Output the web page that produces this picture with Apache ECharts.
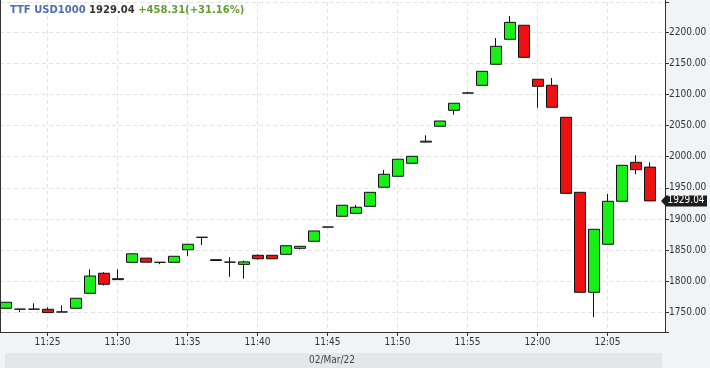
<!DOCTYPE html>
<html><head><meta charset="utf-8">
<script src="https://cdn.jsdelivr.net/npm/echarts@6/dist/echarts.min.js"></script>
<style>html,body{margin:0;padding:0;background:#f2f3f5}#c{width:710px;height:368px}</style>
</head><body><div id="c"></div>
<script>
// ---- data ----
const instrument = 'TTF USD1000';
const changeAbs = '+458.31';
const changePct = '+31.16%';
const dateLabel = '02/Mar/22';
const times = ['11:22','11:23','11:24','11:25','11:26','11:27','11:28','11:29','11:30','11:31',
  '11:32','11:33','11:34','11:35','11:36','11:37','11:38','11:39','11:40','11:41',
  '11:42','11:43','11:44','11:45','11:46','11:47','11:48','11:49','11:50','11:51',
  '11:52','11:53','11:54','11:55','11:56','11:57','11:58','11:59','12:00','12:01',
  '12:02','12:03','12:04','12:05','12:06','12:07','12:08'];
const opens = [1756.4,1755,1755,1754.8,1750.5,1756.4,1780.5,1812.7,1802.5,1830.3,
  1837,1830.3,1830.3,1850.6,1870.5,1834.5,1830.6,1827,1841.6,1841.6,
  1843.2,1852.8,1864.1,1887,1904.3,1909,1920.3,1951,1968.6,1989.5,
  2023.5,2049,2074.6,2102.4,2114.8,2148.6,2188.7,2211.3,2124.5,2114.8,
  2063.4,1942.8,1782.1,1859.3,1928.4,1991,1983.3];
const closes = [1766.1,1755,1755,1749.6,1750.5,1772.5,1808.3,1795,1804,1844,
  1830.5,1830.3,1840,1859.3,1870.5,1833.2,1830.6,1831,1836,1836,
  1857,1856,1880.7,1887,1922,1918.8,1942.8,1971.8,1996,2000.7,
  2025,2057.4,2086,2102.4,2137.3,2177.5,2216,2159.8,2113.2,2079.5,
  1941.2,1782.1,1883.4,1928.4,1986.2,1979.2,1929.04];
const lows = [1756,1750,1755,1749.4,1750.5,1756.4,1780.5,1793,1802.5,1830.3,
  1830.5,1827.3,1830.3,1840.5,1858,1833.2,1807,1804,1834.5,1836,
  1843.2,1851,1864.1,1887,1904.3,1909,1920.3,1951,1968.6,1989.5,
  2023.5,2049,2067.6,2102.4,2114.8,2148.6,2188.7,2159.8,2078.8,2079.5,
  1941.2,1782.1,1742,1859.3,1928.4,1971.8,1929.04];
const highs = [1766.5,1755,1764.5,1758,1761,1772.5,1819,1814.5,1819,1844,
  1837,1830.3,1840,1859.3,1870.5,1834.5,1838.4,1833,1843,1841.6,
  1857,1856,1880.7,1887,1922,1922.4,1942.8,1978.7,1996,2000.7,
  2034.5,2057.4,2086,2104.5,2137.3,2190.8,2226,2211.3,2124.5,2126.5,
  2063.4,1942.8,1883.4,1940,1986.2,2002.3,1991];
const xTickLabels = ['11:25','11:30','11:35','11:40','11:45','11:50','11:55','12:00','12:05'];
const yTickLabels = ['1750.00','1800.00','1850.00','1900.00','1950.00','2000.00','2050.00','2100.00','2150.00','2200.00'];

// ---- helpers ----
const toMin = t => { const p = t.split(':'); return (+p[0]) * 60 + (+p[1]); };
const fmtMin = v => { const h = Math.floor(v / 60), m = Math.round(v - h * 60); return h + ':' + (m < 10 ? '0' + m : m); };
const lastClose = closes[closes.length - 1];
const firstX = toMin(times[0]);
const xMin = firstX - 0.393;
const xMax = firstX + 47.107;
const yMin = 1718.3, yMax = 2248.7;
const axisFont = "'DejaVu Sans Condensed','Liberation Sans Narrow','DejaVu Sans',sans-serif";

const chart = echarts.init(document.getElementById('c'), null, {renderer: 'canvas'});
chart.setOption({
  animation: false,
  backgroundColor: '#f2f3f5',
  title: {
    left: 10, top: 5, padding: 0,
    text: '{a|' + instrument + '} {b|' + lastClose.toFixed(2) + '} {c|' + changeAbs + '(' + changePct + ')}',
    textStyle: {
      fontSize: 10, fontWeight: 'bold', fontFamily: 'DejaVu Sans',
      rich: {
        a: {color: '#4e6fb4', fontWeight: 'bold', fontSize: 10, fontFamily: 'DejaVu Sans'},
        b: {color: '#333333', fontWeight: 'bold', fontSize: 10, fontFamily: 'DejaVu Sans'},
        c: {color: '#62a031', fontWeight: 'bold', fontSize: 10, fontFamily: 'DejaVu Sans'}
      }
    }
  },
  grid: {left: 0, right: 45, top: 2, bottom: 36, show: true, backgroundColor: '#ffffff', borderWidth: 0, containLabel: false, outerBoundsMode: 'none'},
  xAxis: {
    type: 'value', min: xMin, max: xMax, splitNumber: 10, minInterval: 5, maxInterval: 5,
    axisLine: {show: true, onZero: false, lineStyle: {color: '#333', width: 1}},
    axisTick: {show: true, length: 4, lineStyle: {color: '#333'}},
    axisLabel: {
      margin: 5, fontSize: 10, color: '#333', fontFamily: axisFont,
      showMinLabel: false, showMaxLabel: false,
      formatter: v => { const s = fmtMin(v); return (Math.abs(v - Math.round(v)) < 1e-6 && xTickLabels.indexOf(s) >= 0) ? s : ''; }
    },
    splitLine: {show: true, lineStyle: {color: '#e3e3e3', type: [4, 3], width: 1}}
  },
  yAxis: [{
    type: 'value', position: 'right', min: yMin, max: yMax, splitNumber: 10, minInterval: 50, maxInterval: 50, scale: true,
    axisLine: {show: true, lineStyle: {color: '#333', width: 1}},
    axisTick: {show: true, length: 4, lineStyle: {color: '#333'}},
    axisLabel: {
      margin: 4, fontSize: 10, color: '#333', fontFamily: axisFont,
      formatter: v => { const s = (+v).toFixed(2); return yTickLabels.indexOf(s) >= 0 ? s : ''; }
    },
    splitLine: {show: true, lineStyle: {color: '#e3e3e3', type: [4, 3], width: 1}}
  }, {
    type: 'value', position: 'left', min: yMin, max: yMax, scale: true,
    axisLine: {show: true, lineStyle: {color: '#333', width: 1}},
    axisTick: {show: false}, axisLabel: {show: false}, splitLine: {show: false}
  }],
  series: [{
    type: 'candlestick',
    yAxisIndex: 0,
    barWidth: 11.5,
    data: times.map((t, i) => [toMin(t), opens[i], closes[i], lows[i], highs[i]]),
    itemStyle: {
      color: '#17ef17', color0: '#ef1111',
      borderColor: '#111', borderColor0: '#111', borderColorDoji: '#111', borderWidth: 1
    },
    markPoint: {
      silent: true,
      symbol: 'path://M0,5L5,0L46,0L46,10L5,10Z',
      symbolSize: [46, 11],
      symbolKeepAspect: false,
      symbolOffset: [19, 0],
      itemStyle: {color: '#1d1d1d'},
      label: {show: true, color: '#fff', fontSize: 10, fontFamily: axisFont, offset: [2, 0], formatter: () => lastClose.toFixed(2)},
      data: [{coord: [xMax, lastClose], value: lastClose}]
    }
  }],
  graphic: [
    {type: 'rect', silent: true, z: -10, shape: {x: 0, y: 0, width: 665, height: 2}, style: {fill: '#ffffff'}},
    {type: 'line', silent: true, shape: {x1: 0.5, y1: 0, x2: 0.5, y2: 2}, style: {stroke: '#333', lineWidth: 1}},
    {type: 'line', silent: true, shape: {x1: 665.5, y1: 0, x2: 665.5, y2: 2}, style: {stroke: '#333', lineWidth: 1}},
    {type: 'rect', silent: true, shape: {x: 5, y: 353, width: 657, height: 15}, style: {fill: '#e5e6e8'}},
    {type: 'text', silent: true, x: 332, y: 360, style: {text: dateLabel, align: 'center', verticalAlign: 'middle', textAlign: 'center', textVerticalAlign: 'middle', fontSize: 10, fontFamily: axisFont, fill: '#444'}}
  ]
});
</script></body></html>
